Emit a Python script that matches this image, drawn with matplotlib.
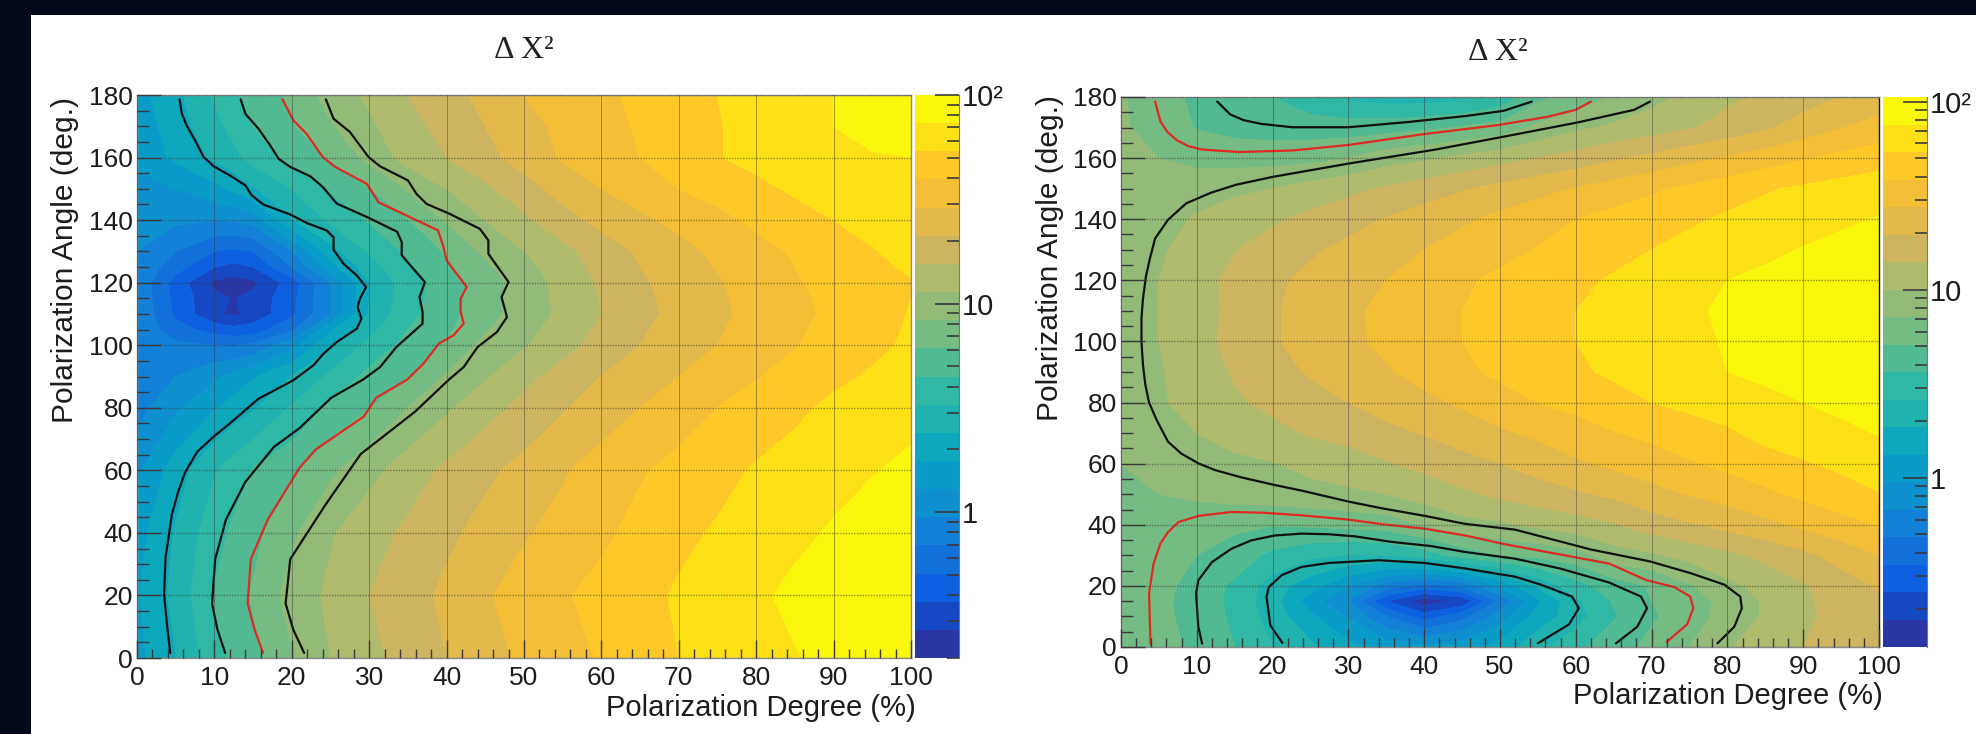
import matplotlib
matplotlib.use("Agg")
import matplotlib.pyplot as plt
from matplotlib.colors import ListedColormap, BoundaryNorm
from matplotlib.patches import Rectangle
from matplotlib.ticker import FixedLocator, NullFormatter
import numpy as np

W, H = 1976, 734

# ---------- colour bands of the palette (lowest to highest) ----------
BAND_COLOURS = ["#2A36A6", "#1648C4", "#0F60E0", "#1270DB", "#1180D6", "#0E8FCE", "#0A9CC8",
                "#0EA8BE", "#1FB2AE", "#2FB8A4", "#52BA92", "#74BB84", "#93BB77", "#AFBA6C",
                "#CCB460", "#E2B94A", "#F4BF37", "#FDC828", "#FDE116", "#FAF60C"]

# ---------- left panel: surface read in colour-band units ----------
LEFT_X = [0, 5, 10, 12.5, 15, 20, 25, 30, 35, 40, 45, 50, 55, 60, 65, 70, 75, 80, 85, 90, 95, 100]
LEFT_Y = [0, 20, 40, 60, 80, 90, 100, 105, 110, 115, 120, 125, 130, 140, 150, 160, 170, 180]
LEFT_Z = [
    [6.7, 7.95, 9.6, 10.2, 10.7, 11.9, 13.0, 13.7, 14.4, 15.0, 15.6, 16.2, 16.6, 17.1, 17.5, 18.0, 18.3, 18.6, 18.95, 19.2, 19.4, 19.6],
    [6.9, 8.3, 10.1, 10.6, 11.1, 12.4, 13.2, 14.0, 14.6, 15.2, 15.9, 16.4, 16.9, 17.3, 17.75, 18.1, 18.5, 18.85, 19.2, 19.5, 19.75, 19.95],
    [6.6, 8.1, 9.6, 10.2, 10.7, 11.8, 12.9, 13.6, 14.2, 14.8, 15.3, 15.9, 16.3, 16.8, 17.3, 17.8, 18.1, 18.5, 18.8, 19.1, 19.4, 19.7],
    [5.8, 7.5, 8.9, 9.5, 10.05, 10.8, 11.8, 12.7, 13.5, 14.2, 14.8, 15.3, 15.9, 16.4, 16.9, 17.3, 17.7, 18.1, 18.4, 18.7, 18.95, 19.2],
    [4.6, 5.8, 6.9, 7.4, 7.9, 9.1, 10.2, 10.95, 12.0, 12.85, 13.6, 14.3, 14.9, 15.5, 16.0, 16.5, 17.0, 17.4, 17.8, 18.2, 18.45, 18.7],
    [4.3, 5.0, 5.8, 6.3, 6.9, 8.0, 9.2, 10.3, 10.95, 12.1, 12.9, 13.7, 14.4, 15.0, 15.6, 16.0, 16.5, 16.95, 17.3, 17.8, 18.1, 18.4],
    [4.6, 4.2, 4.0, 3.9, 4.2, 5.7, 7.85, 9.3, 10.3, 11.1, 12.3, 12.9, 13.6, 14.4, 15.0, 15.6, 16.0, 16.5, 16.95, 17.4, 17.8, 18.15],
    [4.8, 3.4, 2.6, 2.3, 2.5, 3.8, 6.8, 8.7, 10.0, 10.8, 11.9, 12.7, 13.4, 14.2, 14.85, 15.45, 15.9, 16.4, 16.85, 17.3, 17.7, 18.1],
    [4.9, 2.8, 1.15, 0.85, 1.3, 2.8, 5.0, 8.1, 9.7, 10.6, 11.6, 12.5, 13.2, 14.0, 14.7, 15.3, 15.8, 16.3, 16.75, 17.2, 17.65, 18.05],
    [4.8, 2.7, 1.2, 0.95, 1.3, 2.7, 5.0, 8.0, 9.6, 10.55, 11.55, 12.5, 13.25, 14.05, 14.75, 15.35, 15.85, 16.35, 16.8, 17.25, 17.65, 18.0],
    [4.8, 2.6, 0.8, 0.5, 0.8, 2.5, 5.0, 8.0, 9.5, 10.5, 11.5, 12.5, 13.3, 14.15, 14.85, 15.4, 15.9, 16.4, 16.9, 17.3, 17.7, 17.95],
    [4.9, 3.4, 2.0, 1.7, 2.0, 4.0, 6.6, 8.6, 9.8, 10.8, 11.8, 12.7, 13.5, 14.3, 15.0, 15.55, 16.05, 16.55, 17.0, 17.45, 17.85, 18.1],
    [5.0, 4.0, 3.0, 2.8, 3.0, 4.9, 7.6, 9.1, 10.2, 11.1, 12.2, 13.0, 13.7, 14.5, 15.15, 15.7, 16.2, 16.7, 17.1, 17.6, 17.95, 18.25],
    [5.4, 5.2, 5.0, 5.1, 5.4, 7.9, 9.2, 10.1, 10.95, 12.1, 13.0, 13.8, 14.6, 15.3, 15.8, 16.25, 16.7, 17.2, 17.6, 18.0, 18.3, 18.5],
    [5.6, 6.0, 6.7, 7.2, 7.9, 9.0, 10.1, 10.95, 12.1, 13.0, 13.8, 14.6, 15.4, 16.0, 16.5, 17.0, 17.4, 17.75, 18.15, 18.4, 18.6, 18.75],
    [6.3, 7.2, 8.2, 8.7, 9.4, 10.3, 11.1, 12.3, 13.4, 14.0, 14.7, 15.4, 16.1, 16.6, 17.0, 17.5, 17.95, 18.3, 18.6, 18.85, 18.95, 19.0],
    [6.4, 7.5, 8.7, 9.3, 10.0, 10.9, 11.9, 12.8, 13.7, 14.3, 15.0, 15.7, 16.2, 16.7, 17.1, 17.55, 17.95, 18.3, 18.65, 19.0, 19.2, 19.3],
    [6.6, 7.75, 9.1, 9.8, 10.35, 11.2, 12.4, 13.2, 14.0, 14.6, 15.3, 16.0, 16.3, 16.8, 17.2, 17.6, 18.0, 18.3, 18.7, 19.0, 19.3, 19.6],
]

# ---------- right panel: surface read in colour-band units ----------
RIGHT_X = [0, 5, 10, 15, 20, 25, 30, 35, 40, 45, 50, 55, 60, 65, 70, 75, 80, 85, 90, 95, 100]
RIGHT_Y = [0, 10, 15, 20, 30, 40, 50, 60, 70, 80, 90, 100, 110, 120, 130, 140, 150, 160, 170, 180]
RIGHT_Z = [
    [12.0, 11.35, 10.8, 10.0, 9.0, 8.2, 7.3, 6.6, 6.2, 6.6, 7.4, 8.7, 9.7, 10.65, 11.2, 12.0, 12.9, 13.5, 14.0, 14.05, 14.1],
    [11.95, 11.25, 10.65, 9.8, 8.55, 7.2, 5.9, 4.0, 2.5, 3.6, 5.5, 7.4, 8.55, 9.9, 10.9, 11.4, 12.5, 13.1, 13.85, 14.25, 14.6],
    [11.9, 11.2, 10.65, 9.7, 8.4, 6.5, 5.0, 2.0, 0.4, 1.2, 4.2, 6.8, 8.8, 10.1, 11.0, 11.45, 12.4, 13.1, 13.85, 14.35, 14.85],
    [11.9, 11.3, 10.65, 9.8, 8.5, 7.4, 6.0, 4.5, 3.6, 4.2, 6.1, 8.2, 9.6, 10.5, 11.1, 11.9, 12.75, 13.3, 13.9, 14.5, 15.1],
    [11.7, 11.35, 11.0, 10.55, 9.75, 9.2, 8.95, 9.0, 9.5, 10.4, 11.0, 11.25, 11.6, 12.55, 12.85, 13.3, 13.75, 14.25, 14.75, 15.4, 16.0],
    [11.6, 11.5, 11.35, 11.2, 11.05, 11.15, 11.3, 11.45, 12.1, 12.65, 12.85, 13.2, 13.55, 13.9, 14.5, 14.9, 15.3, 15.75, 16.2, 16.65, 17.05],
    [11.85, 12.0, 12.2, 12.4, 12.55, 12.7, 12.85, 13.0, 13.4, 13.8, 14.2, 14.55, 14.85, 15.2, 15.7, 16.05, 16.4, 16.8, 17.2, 17.6, 17.95],
    [12.0, 12.3, 12.7, 12.8, 12.95, 13.25, 13.45, 13.9, 14.3, 14.65, 15.0, 15.4, 15.85, 16.2, 16.5, 16.9, 17.25, 17.6, 17.9, 18.2, 18.5],
    [12.1, 12.65, 13.0, 13.35, 13.7, 14.1, 14.4, 14.75, 15.05, 15.45, 15.85, 16.2, 16.55, 16.95, 17.25, 17.55, 17.85, 18.3, 18.55, 18.8, 19.05],
    [12.35, 12.9, 13.3, 13.85, 14.25, 14.65, 15.0, 15.4, 15.75, 16.15, 16.6, 17.0, 17.3, 17.65, 18.0, 18.25, 18.5, 18.75, 19.0, 19.2, 19.4],
    [12.4, 12.9, 13.5, 14.1, 14.65, 15.1, 15.5, 15.9, 16.35, 16.8, 17.2, 17.5, 17.85, 18.15, 18.45, 18.7, 19.0, 19.2, 19.4, 19.55, 19.7],
    [12.45, 13.0, 13.65, 14.3, 14.9, 15.35, 15.8, 16.2, 16.6, 17.0, 17.35, 17.7, 18.0, 18.25, 18.55, 18.85, 19.05, 19.25, 19.4, 19.6, 19.8],
    [12.45, 13.0, 13.6, 14.25, 14.9, 15.35, 15.8, 16.25, 16.65, 17.0, 17.4, 17.7, 18.0, 18.3, 18.6, 18.9, 19.1, 19.3, 19.45, 19.6, 19.8],
    [12.4, 13.0, 13.65, 14.25, 14.8, 15.25, 15.65, 16.0, 16.4, 16.85, 17.2, 17.5, 17.8, 18.1, 18.4, 18.7, 19.0, 19.2, 19.4, 19.55, 19.7],
    [12.4, 12.8, 13.6, 13.95, 14.4, 14.85, 15.25, 15.65, 16.0, 16.35, 16.7, 17.05, 17.35, 17.7, 18.0, 18.3, 18.55, 18.8, 19.05, 19.25, 19.5],
    [12.4, 12.65, 13.1, 13.5, 13.85, 14.25, 14.65, 15.05, 15.5, 15.85, 16.25, 16.6, 17.0, 17.3, 17.55, 17.85, 18.15, 18.4, 18.6, 18.85, 19.05],
    [12.4, 12.5, 12.6, 12.8, 13.0, 13.4, 13.75, 14.1, 14.5, 14.9, 15.3, 15.7, 16.05, 16.45, 16.85, 17.2, 17.55, 17.9, 18.15, 18.4, 18.6],
    [12.3, 12.0, 11.7, 11.6, 11.6, 11.7, 12.0, 12.55, 12.85, 13.2, 13.6, 14.0, 14.4, 14.85, 15.25, 15.7, 16.1, 16.5, 16.9, 17.25, 17.55],
    [12.2, 11.4, 10.95, 10.65, 10.55, 10.5, 10.5, 10.6, 10.8, 11.1, 11.4, 12.2, 12.8, 13.15, 13.5, 13.9, 14.35, 14.85, 15.4, 15.95, 16.4],
    [12.1, 11.4, 10.8, 10.4, 10.0, 9.3, 8.8, 8.5, 8.5, 8.7, 9.3, 10.75, 11.3, 12.1, 12.7, 13.2, 13.8, 14.2, 14.6, 15.0, 15.4],
]

# ---------- confidence contours (degree %, angle deg) ----------
L_C1_X = [4.3, 3.9, 3.5, 3.7, 4.5, 5.3, 6.2, 7.8, 10, 12, 15.7, 20.2, 22.8, 24.1, 25.8, 28.4, 29, 28.5, 28.8, 29.6, 28.4, 26.7, 25.4, 25.4, 24.5, 22, 19.8, 16.3, 14.8, 14, 12, 9.9, 8.6, 7.5, 6.4, 5.8, 5.5]
L_C1_Y = [1.6, 10, 20.4, 32.3, 45.8, 53, 59.3, 66, 71, 75, 82.9, 88.8, 93.6, 97.3, 101, 105.3, 108.5, 112.2, 114.9, 118.6, 122.3, 126, 130.5, 134.5, 136.7, 139, 141.8, 145, 148, 151.1, 154.3, 157.2, 160.2, 165.5, 170.3, 174, 178.6]
L_C2_X = [11.4, 10.4, 9.7, 10.1, 11.5, 14, 17.7, 21, 25.1, 29.2, 31.4, 33.5, 36.9, 36.9, 36.5, 37.2, 35.5, 34.2, 34.2, 33.6, 29.7, 25.8, 24, 22.4, 19.8, 18.3, 17.2, 15.7, 14, 13.4]
L_C2_Y = [1.6, 9, 17.4, 31.6, 44.3, 56.3, 67.5, 73.5, 83.2, 89, 93, 99.4, 106.9, 110.6, 115.4, 120.2, 125, 128.8, 133, 136.3, 141, 145.3, 150.6, 154, 157, 159.6, 163.9, 169.2, 174, 178.6]
L_RED_X = [16.3, 15.2, 14.3, 14.7, 16.9, 21, 23.1, 29.3, 30.9, 34.9, 37, 39, 40.9, 42.2, 41.8, 41.8, 42.6, 40, 39.6, 38.9, 34.8, 31.2, 29.7, 25.6, 24, 21.9, 20.2, 18.8]
L_RED_Y = [1.6, 9, 17.4, 31.6, 44.3, 60.8, 66.7, 77.2, 83.2, 89, 94.1, 100.5, 103.2, 106.9, 111.1, 114.9, 118.6, 127.1, 131.4, 136.7, 141.5, 145.7, 151.6, 157, 160.2, 167.6, 171.9, 178.6]
L_C3_X = [21.6, 20.2, 19.2, 19.8, 24.3, 28.9, 35.9, 40.3, 42.2, 44, 46.5, 47.8, 47.1, 48, 45.4, 45.4, 44.3, 40.4, 37.4, 36.1, 35, 31.4, 29.9, 27.5, 25.4, 24.4]
L_C3_Y = [1.6, 9, 17.4, 31.6, 48.8, 65.2, 78.7, 89, 93, 99.4, 104.2, 109, 115.4, 120.2, 129.2, 133.5, 137.2, 142, 145.2, 148.4, 152.7, 157.2, 160.2, 168.2, 172.4, 178.6]

R_OUT_X = [69.8, 67.7, 60.3, 51.3, 41.5, 30, 20.1, 15.2, 11.9, 8.6, 6.2, 4.5, 3.8, 3.3, 2.9, 2.7, 2.7, 2.9, 3.2, 3.7, 4.7, 6.2, 7.9, 10.2, 12.4, 15.9, 20.3, 23.8, 30, 34.4, 40.1, 45.4, 52, 62, 69.8, 75.1, 79.6, 81.7, 81.9, 80.9, 78.7]
R_OUT_Y = [178.5, 175.8, 171.7, 167.4, 162.8, 158.2, 153.9, 151.3, 148.7, 145.2, 139.8, 133.7, 127, 121.4, 114, 107.7, 100, 92.3, 86, 80, 74.3, 67.2, 63.4, 60.1, 57.9, 55.5, 53, 51.2, 47.6, 45.4, 42.9, 40.3, 38.4, 31.9, 28, 24.2, 20.4, 16.5, 12.7, 6.6, 1.2]
R_RED_LO_X = [3.9, 3.7, 4.3, 5.2, 6.2, 7.6, 10.2, 14.6, 19, 23.8, 30, 34.4, 40.1, 45.4, 50.7, 57.9, 64.4, 69.3, 73, 75.1, 75.5, 74.7, 72]
R_RED_LO_Y = [0.9, 17.5, 27.3, 33.9, 37.6, 40.9, 42.9, 44.2, 43.9, 43.1, 41.7, 40.2, 38.7, 36.5, 33.6, 30.3, 27.3, 21.9, 19.6, 16.5, 12.7, 7.4, 1.7]
R_RED_UP_X = [4.5, 5.2, 6.1, 7.4, 8.9, 10.7, 15.6, 22.6, 30, 39.8, 49.7, 56.2, 60, 62]
R_RED_UP_Y = [178.5, 172, 168.6, 165.8, 163.9, 162.8, 162, 162.5, 164.3, 167.8, 170.8, 173.5, 175.8, 178.5]
R_BLK_UP_X = [12.7, 14.4, 16.2, 18.5, 22.6, 30, 37.4, 45.6, 50.5, 54.2]
R_BLK_UP_Y = [178.5, 174.3, 172.4, 171.2, 170.1, 170.1, 171.7, 173.8, 175.5, 178.5]
R_MID_X = [10.7, 10.2, 9.9, 10.2, 12, 14.6, 17.2, 20.3, 23.8, 27.4, 30.9, 35.7, 41, 45.4, 52, 57.9, 64.4, 68.6, 69.4, 68.1, 65.3]
R_MID_Y = [1.1, 6.6, 17.5, 21.8, 27.8, 32.2, 34.9, 36.5, 37.1, 36.9, 36.2, 34.4, 33, 31.1, 28.9, 25.7, 21.1, 16.5, 12.7, 6.6, 1.2]
R_IN_X = [21.3, 19.7, 19.2, 19.5, 21.2, 23.8, 27.4, 34, 40.1, 45.4, 52, 55.4, 59.5, 60.4, 59.1, 55]
R_IN_Y = [1.3, 7.1, 16.4, 19.6, 23.5, 26.2, 27.5, 28.4, 27.5, 25.7, 23, 20.4, 16.5, 12.7, 7.4, 1.2]

# ---------- texts and ticks ----------
TITLE = "\u0394 X\u00b2"
X_LABEL = "Polarization Degree (%)"
Y_LABEL = "Polarization Angle (deg.)"
X_TICKS = list(range(0, 101, 10))
Y_TICKS = list(range(0, 181, 20))
CB_TICKS = [1, 10, 100]
CB_LABELS = ["1", "10", "10\u00b2"]

SANS = "Liberation Sans"
SERIF = "Liberation Serif"
TICK_CLR = "#3a3a3a"


def axes_px(x0, y0, x1, y1):
    """Axes from pixel box with origin at the top-left."""
    return fig.add_axes([x0 / W, 1 - y1 / H, (x1 - x0) / W, (y1 - y0) / H])


fig = plt.figure(figsize=(W / 100, H / 100), dpi=100, facecolor="#020a1a")
fig.patches.append(Rectangle((31 / W, 0), 1 - 31 / W, 1 - 15 / H, transform=fig.transFigure,
                             facecolor="white", edgecolor="none", zorder=-5))

cmap = ListedColormap(BAND_COLOURS)
norm = BoundaryNorm(np.arange(21), 20)


def panel(box, cbox, xs, ys, zs, lines, cb_range, title_xy, xlabel_xy, ylabel_xy):
    ax = axes_px(*box)
    ax.contourf(xs, ys, np.array(zs), levels=np.arange(21), cmap=cmap, norm=norm, antialiased=False)
    ax.set_xlim(0, 100)
    ax.set_ylim(0, 180)
    ax.set_xticks(X_TICKS)
    ax.set_yticks(Y_TICKS)
    ax.xaxis.set_minor_locator(FixedLocator(np.arange(0, 101, 2)))
    ax.yaxis.set_minor_locator(FixedLocator(np.arange(0, 181, 5)))
    ax.tick_params(which="major", direction="in", length=17, width=1.0, color=TICK_CLR, labelsize=19,
                   labelfontfamily=SANS, labelcolor="#1c1c1c")
    ax.tick_params(which="minor", direction="in", length=8.5, width=1.0, color=TICK_CLR)
    ax.tick_params(axis="x", which="major", length=13, pad=6)
    ax.tick_params(axis="x", which="minor", length=6.5)
    ax.tick_params(axis="y", which="major", pad=3)
    ax.grid(True, axis="x", which="major", color="#333333", lw=0.7, alpha=0.45)
    ax.grid(True, axis="y", which="major", color="#333333", lw=1.0, ls=(0, (1, 1)), alpha=0.5)
    ax.set_axisbelow(False)
    for s in ax.spines.values():
        s.set_color("#8a8a8a")
        s.set_linewidth(1.0)
    for lx, ly, colour in lines:
        ax.plot(lx, ly, color=colour, lw=1.6, solid_joinstyle="round", solid_capstyle="round")

    cax = axes_px(*cbox)
    edges = np.geomspace(cb_range[0], cb_range[1], 21)
    cax.set_yscale("log")
    cax.pcolormesh([0, 1], edges, np.arange(20).reshape(-1, 1), cmap=cmap, norm=norm)
    cax.set_ylim(*cb_range)
    cax.set_xticks([])
    cax.yaxis.tick_right()
    cax.set_yticks(CB_TICKS)
    cax.set_yticklabels(CB_LABELS, fontfamily=SANS, fontsize=21, color="#1c1c1c")
    minor = [m * d for d in (0.1, 1, 10) for m in range(2, 10)]
    cax.yaxis.set_minor_locator(FixedLocator([m for m in minor if cb_range[0] <= m <= cb_range[1]]))
    cax.yaxis.set_minor_formatter(NullFormatter())
    cax.tick_params(which="major", direction="in", length=17, width=1.2, color=TICK_CLR, pad=2)
    cax.tick_params(which="minor", direction="in", length=8.5, width=1.2, color=TICK_CLR)
    for s in cax.spines.values():
        s.set_visible(False)
    cax.spines["right"].set_visible(True)
    cax.spines["right"].set_color("#777777")

    fig.text(title_xy[0] / W, 1 - title_xy[1] / H, TITLE, family=SERIF, fontsize=23,
             ha="center", va="center", color="#222222")
    fig.text(xlabel_xy[0] / W, 1 - xlabel_xy[1] / H, X_LABEL, family=SANS, fontsize=21,
             ha="right", va="center", color="#1c1c1c")
    fig.text(ylabel_xy[0] / W, 1 - ylabel_xy[1] / H, Y_LABEL, family=SANS, fontsize=21.5,
             rotation=90, ha="center", va="center", color="#1c1c1c")
    return ax, cax


K = "#111111"
R = "#e02a20"
panel((137, 95, 911, 658), (915, 95, 959, 658), LEFT_X, LEFT_Y, LEFT_Z,
      [(L_C1_X, L_C1_Y, K), (L_C2_X, L_C2_Y, K), (L_RED_X, L_RED_Y, R), (L_C3_X, L_C3_Y, K)],
      (0.2, 100), (524, 50), (916, 708), (65, 260))
ax2, _ = panel((1121, 97, 1879, 647), (1883, 97, 1927, 647), RIGHT_X, RIGHT_Y, RIGHT_Z,
      [(R_OUT_X, R_OUT_Y, K), (R_RED_LO_X, R_RED_LO_Y, R), (R_RED_UP_X, R_RED_UP_Y, R),
       (R_BLK_UP_X, R_BLK_UP_Y, K), (R_MID_X, R_MID_Y, K), (R_IN_X, R_IN_Y, K)],
      (0.126, 106), (1498, 52), (1883, 696), (1050, 258))
ax2.spines["right"].set_color("#111111")

fig.savefig("out.png", dpi=100, facecolor=fig.get_facecolor())
